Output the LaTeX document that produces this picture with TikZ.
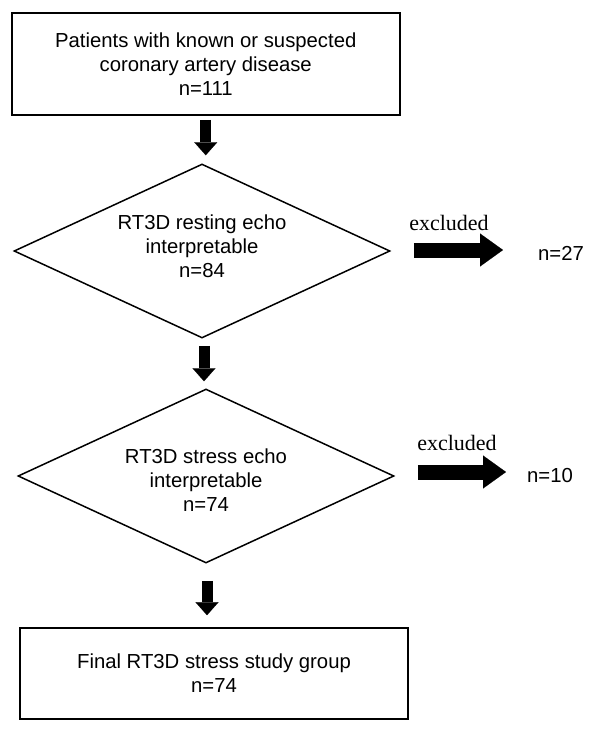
\documentclass[tikz,border=0pt]{standalone}
\usepackage{fontspec}
\setmainfont{Liberation Sans}
\newfontfamily\timesfont{Liberation Serif}
\usetikzlibrary{shapes.geometric,arrows.meta,positioning}

\tikzset{
  box/.style={draw, line width=1.6pt, rectangle, align=center, inner sep=0pt, font=\fontsize{20.3}{24}\selectfont},
  decision/.style={draw, line width=1.5pt, diamond, inner sep=0pt, minimum width=376pt, minimum height=174pt},
  bigdown/.style={line width=11pt, -{Triangle[length=13pt,width=23pt,line width=0.1pt]}},
  bigright/.style={line width=15pt, -{Triangle[length=23pt,width=33pt,line width=0.1pt]}},
  txt/.style={inner sep=0pt, align=center, font=\fontsize{20.3}{24}\selectfont},
  excl/.style={inner sep=0pt, font=\timesfont\fontsize{22}{24}\selectfont},
}

\begin{document}
\begin{tikzpicture}[x=1pt,y=-1pt]
	\useasboundingbox (0,0) rectangle (600,734);
	\node[box, minimum width=388pt, minimum height=102pt] (patients) at (205.75,64) {Patients with known or suspected\\coronary artery disease\\n=111};
	\node[decision] (resting) at (202,251) {};
	\node[txt] (restingtxt) at (202,246) {RT3D resting echo\\interpretable\\n=84};
	\node[decision] (stress) at (206,476) {};
	\node[txt] (stresstxt) at (206,480) {RT3D stress echo\\interpretable\\n=74};
	\node[box, minimum width=388pt, minimum height=91pt] (final) at (214,673.5) {Final RT3D stress study group\\n=74};
	\node[txt, anchor=west] (out1) at (538,253) {n=27};
	\node[txt, anchor=west] (out2) at (527,476) {n=10};
	\node[excl, anchor=base] (ex1) at (449,230) {excluded};
	\node[excl, anchor=base] (ex2) at (457,450) {excluded};
	\draw[bigdown, shorten <=4pt, shorten >=8pt] (patients.south) -- (patients.south |- resting.north);
	\draw[bigdown, shorten <=7pt, shorten >=7pt] ([xshift=2pt]resting.south) -- ([xshift=2pt]resting.south |- stress.north);
	\draw[bigdown, shorten <=17pt, shorten >=12pt] ([xshift=1pt]stress.south) -- ([xshift=1pt]stress.south |- final.north);
	\draw[bigright, shorten <=23pt, shorten >=35pt] ([yshift=1pt]resting.east) -- ([yshift=1pt]resting.east -| out1.west);
	\draw[bigright, shorten <=23pt, shorten >=21pt] ([yshift=4pt]stress.east) -- ([yshift=4pt]stress.east -| out2.west);
\end{tikzpicture}
\end{document}
